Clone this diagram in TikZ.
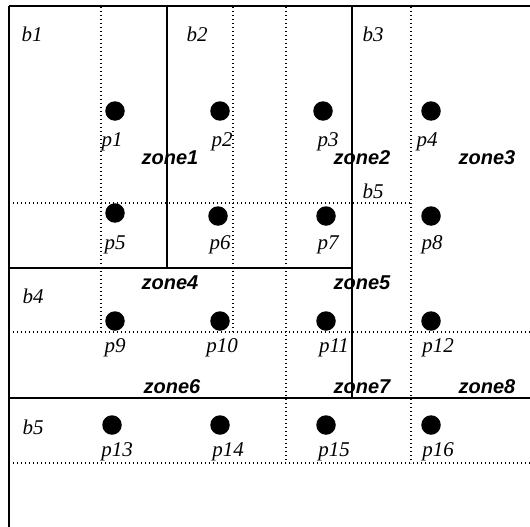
\documentclass[tikz,border=0pt]{standalone}
\usepackage{fontspec}
\setmainfont{Liberation Serif}
\newfontfamily\zonefont{Liberation Sans}
\begin{document}
\begin{tikzpicture}[x=1pt,y=-1pt,
  solidline/.style={line width=1.3pt,black},
  dotline/.style={line width=1.1pt,black,dash pattern=on 1.2pt off 2.8pt},
  pt/.style={circle,fill=black,inner sep=0pt,minimum size=19.5pt},
  plabel/.style={font=\fontsize{21}{21}\selectfont\itshape,inner sep=0pt},
  blabel/.style={font=\fontsize{21}{21}\selectfont\itshape,inner sep=0pt},
  zlabel/.style={font=\fontsize{20}{20}\selectfont\zonefont\bfseries\itshape,inner sep=0pt}]
\useasboundingbox (0,0) rectangle (530,527);
% dotted lines
\draw[dotline] (101,7) -- (101,332);
\draw[dotline] (233,7) -- (233,332);
\draw[dotline] (286,7) -- (286,463);
\draw[dotline] (411,7) -- (411,463);
\draw[dotline] (9,203) -- (411,203);
\draw[dotline] (9,332) -- (530,332);
\draw[dotline] (9,463) -- (530,463);
% solid lines
\draw[line width=2pt,black] (9,6.5) -- (530,6.5);
\draw[line width=1.6pt,black] (9,6) -- (9,527);
\draw[solidline] (167,7) -- (167,268);
\draw[solidline] (9,268) -- (352,268);
\draw[solidline] (352,7) -- (352,398);
\draw[solidline] (9,398) -- (530,398);
% points
\node[pt] (p1) at (115,111) {};
\node[pt] (p2) at (220,111) {};
\node[pt] (p3) at (323,111) {};
\node[pt] (p4) at (431,111) {};
\node[pt] (p5) at (115,213) {};
\node[pt] (p6) at (218,216) {};
\node[pt] (p7) at (326,216) {};
\node[pt] (p8) at (431,216) {};
\node[pt] (p9) at (115,321) {};
\node[pt] (p10) at (220,321) {};
\node[pt] (p11) at (326,321) {};
\node[pt] (p12) at (431,321) {};
\node[pt] (p13) at (112,425) {};
\node[pt] (p14) at (220,425) {};
\node[pt] (p15) at (326,425) {};
\node[pt] (p16) at (431,425) {};
% point labels
\node[plabel] (lp1) at (112,142) {p1};
\node[plabel] (lp2) at (222,142) {p2};
\node[plabel] (lp3) at (328,142) {p3};
\node[plabel] (lp4) at (427,142) {p4};
\node[plabel] (lp5) at (115,245) {p5};
\node[plabel] (lp6) at (220,245) {p6};
\node[plabel] (lp7) at (328,245) {p7};
\node[plabel] (lp8) at (432,245) {p8};
\node[plabel] (lp9) at (115,348) {p9};
\node[plabel] (lp10) at (222,348) {p10};
\node[plabel] (lp11) at (334,348) {p11};
\node[plabel] (lp12) at (438,348) {p12};
\node[plabel] (lp13) at (117,452) {p13};
\node[plabel] (lp14) at (228,452) {p14};
\node[plabel] (lp15) at (334,452) {p15};
\node[plabel] (lp16) at (438,452) {p16};
% block labels
\node[blabel] (b1) at (32,34) {b1};
\node[blabel] (b2) at (197,34) {b2};
\node[blabel] (b3) at (373,34) {b3};
\node[blabel] (b5a) at (373,191) {b5};
\node[blabel] (b4) at (33,296) {b4};
\node[blabel] (b5b) at (33,427) {b5};
% zone labels
\node[zlabel] (z1) at (170,158) {zone1};
\node[zlabel] (z2) at (362,158) {zone2};
\node[zlabel] (z3) at (487,158) {zone3};
\node[zlabel] (z4) at (170,283) {zone4};
\node[zlabel] (z5) at (362,283) {zone5};
\node[zlabel] (z6) at (172,387) {zone6};
\node[zlabel] (z7) at (362,387) {zone7};
\node[zlabel] (z8) at (487,387) {zone8};
\end{tikzpicture}
\end{document}
